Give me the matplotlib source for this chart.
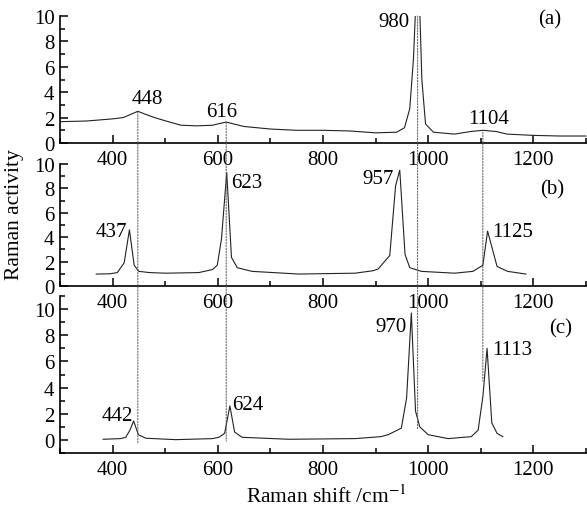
import numpy as np
import matplotlib
matplotlib.use('Agg')
import matplotlib.pyplot as plt
from matplotlib.patches import ConnectionPatch
from matplotlib.ticker import MultipleLocator

plt.rcParams['font.family'] = ['Liberation Serif', 'DejaVu Serif']
plt.rcParams['mathtext.fontset'] = 'stix'

# spectrum (a)
xa = [300, 350, 400, 420, 440, 448, 460, 480, 500, 530, 560, 590, 605, 616, 630, 650,
      700, 750, 800, 850, 900, 940, 955, 965, 972, 976, 980, 984, 988, 995, 1010, 1050,
      1080, 1104, 1130, 1150, 1200, 1250, 1300]
ya = [1.68, 1.73, 1.9, 2.0, 2.35, 2.5, 2.3, 2.0, 1.75, 1.4, 1.35, 1.4, 1.55, 1.65, 1.5, 1.3,
      1.1, 1.0, 1.0, 0.95, 0.8, 0.85, 1.2, 2.7, 6.6, 10.5, 12.0, 10.5, 5.0, 1.5, 0.85, 0.7,
      0.9, 1.0, 0.9, 0.7, 0.6, 0.55, 0.55]

# spectrum (b)
xb = [369, 395, 409, 422, 432, 441, 450, 470, 501, 564, 590, 599, 607, 617, 626, 637, 665,
      754, 861, 895, 905, 927, 938, 946, 956, 965, 987, 1050, 1085, 1104, 1113, 1131, 1151, 1186]
yb = [0.98, 1.0, 1.1, 1.9, 4.6, 1.7, 1.2, 1.1, 1.05, 1.1, 1.35, 1.7, 3.85, 9.3, 2.35, 1.5, 1.2,
      0.98, 1.05, 1.25, 1.4, 2.5, 8.2, 9.5, 2.6, 1.5, 1.2, 1.05, 1.2, 1.7, 4.5, 1.6, 1.2, 0.98]

# spectrum (c)
xc = [382, 415, 425, 433, 440, 449, 463, 520, 590, 602, 613, 623, 632, 646, 735, 861, 910,
      924, 949, 959, 968, 976, 984, 1000, 1038, 1082, 1095, 1104, 1112, 1121, 1131, 1142]
yc = [0.05, 0.1, 0.2, 0.75, 1.45, 0.4, 0.13, 0.02, 0.1, 0.2, 0.5, 2.6, 0.6, 0.2, 0.05, 0.1, 0.25,
      0.4, 0.9, 3.2, 9.7, 2.2, 1.0, 0.4, 0.1, 0.25, 0.75, 3.3, 7.0, 1.3, 0.5, 0.25]

# peak labels: (text, x, y)
labels_a = [('448', 466, 3.5), ('616', 607, 2.5), ('980', 934, 9.6), ('1104', 1114, 1.9)]
labels_b = [('437', 397, 4.5), ('623', 655, 8.5), ('957', 905, 8.85), ('1125', 1160, 4.45)]
labels_c = [('442', 409, 1.9), ('624', 657, 2.7), ('970', 930, 8.7), ('1113', 1160, 6.9)]

# dotted guide lines through all panels
guide_x = [448, 616, 980, 1104]
guide_top = [2.45, 1.6, 10.0, 0.85]
guide_bottom = [-0.2, -0.1, 0.8, 4.5]

fig = plt.figure(figsize=(5.87, 5.10), dpi=100)
left, width = 60 / 587, 527 / 587
ax_a = fig.add_axes([left, 1 - 144 / 510, width, 127 / 510])
ax_b = fig.add_axes([left, 1 - 287 / 510, width, 122 / 510])
ax_c = fig.add_axes([left, 1 - 454 / 510, width, 157 / 510])

fs = 15
panels = [(ax_a, xa, ya, labels_a, '(a)', (1231, 9.8), (0, 10)),
          (ax_b, xb, yb, labels_b, '(b)', (1236, 7.95), (0, 10)),
          (ax_c, xc, yc, labels_c, '(c)', (1251, 8.6), (-1, 11))]

for ax, x, y, labels, tag, tag_pos, ylim in panels:
    ax.patch.set_alpha(0)
    ax.plot(x, y, color='#222222', lw=0.8)
    ax.set_xlim(300, 1302)
    ax.set_ylim(*ylim)
    for s in ['top', 'right']:
        ax.spines[s].set_visible(False)
    for s in ['left', 'bottom']:
        ax.spines[s].set_linewidth(1.2)
    ax.xaxis.set_minor_locator(MultipleLocator(100))
    ax.yaxis.set_minor_locator(MultipleLocator(1))
    ax.set_xticks([400, 600, 800, 1000, 1200])
    ax.set_yticks([0, 2, 4, 6, 8, 10])
    ax.tick_params(which='major', direction='in', length=6, width=1.1, labelsize=fs)
    ax.tick_params(which='minor', direction='in', length=3.5, width=1.1)
    ax.tick_params(axis='x', pad=5)
    ax.tick_params(axis='y', pad=4)
    for t, tx, ty in labels:
        ax.text(tx, ty, t, ha='center', va='center', fontsize=fs)
    ax.text(tag_pos[0], tag_pos[1], tag, ha='center', va='center', fontsize=fs)

for gx, gt, gb in zip(guide_x, guide_top, guide_bottom):
    con = ConnectionPatch(xyA=(gx, gt), coordsA='data', axesA=ax_a,
                          xyB=(gx, gb), coordsB='data', axesB=ax_c,
                          color='#555555', lw=0.7, linestyle=(0, (1.5, 1.5)))
    fig.add_artist(con)

fig.text(15 / 587, 1 - 215 / 510, 'Raman activity', rotation=90, ha='center', va='center', fontsize=fs + 0.5)
fig.text(326 / 587, 1 - 497 / 510, 'Raman shift /cm$^{-1}$', ha='center', va='center', fontsize=fs + 0.5)

fig.savefig('out.png', dpi=100)
